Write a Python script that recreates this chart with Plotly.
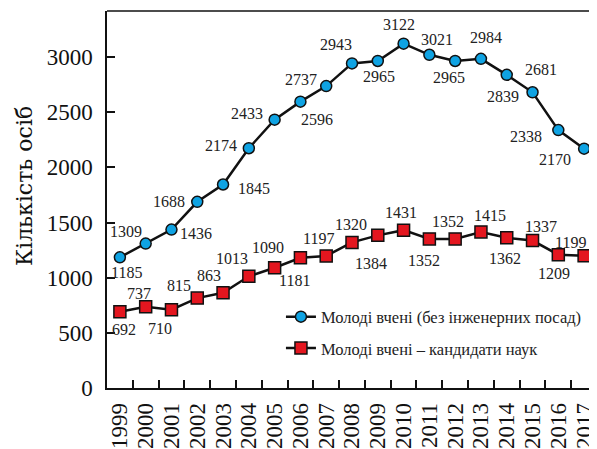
import plotly.graph_objects as go

years = [str(y) for y in range(1999, 2018)]
young_all = [1185, 1309, 1436, 1688, 1845, 2174, 2433, 2596, 2737, 2943,
             2965, 3122, 3021, 2965, 2984, 2839, 2681, 2338, 2170]
young_phd = [692, 737, 710, 815, 863, 1013, 1090, 1181, 1197, 1320,
             1384, 1431, 1352, 1352, 1415, 1362, 1337, 1209, 1199]

# label offsets in pixels from each point (dx right, dy down)
off_all = [(7, 15), (-20, -12), (25, 4), (-28, 0), (31, 4), (-28, -3), (-28, -6),
           (17, 18), (-25, -7), (-16, -19), (1, 16), (-5, -19), (8, -15), (-6, 17),
           (5, -21), (-4, 22), (8, -23), (-32, 6), (-29, 11)]
off_phd = [(4, 18), (-7, -13), (-11, 19), (-18, -13), (-14, -17), (-17, -18), (-7, -20),
           (-6, 23), (-8, -17), (-1, -18), (-7, 28), (-3, -18), (-5, 22), (-7, -17),
           (9, -16), (-2, 21), (8, -14), (-4, 19), (-14, -13)]

FONT = "Liberation Serif"
# page body has an 8px default margin: size the figure so the plot lands where the reference has it
OFF = 8

fig = go.Figure()
fig.add_trace(go.Scatter(
    x=years, y=young_all, mode="lines+markers",
    name="Молоді вчені (без інженерних посад)",
    line=dict(color="#111", width=2.5),
    marker=dict(symbol="circle", size=11, color="#0fa3e3",
                line=dict(color="#111", width=1.5)),
    legendgroup="a", cliponaxis=False))
fig.add_trace(go.Scatter(
    x=years, y=young_phd, mode="lines+markers",
    name="Молоді вчені – кандидати наук",
    line=dict(color="#111", width=2.5),
    marker=dict(symbol="square", size=12, color="#e4161f",
                line=dict(color="#111", width=1.5)),
    legendgroup="b", cliponaxis=False))

annotations = []
for series, offs in ((young_all, off_all), (young_phd, off_phd)):
    for i, (v, (dx, dy)) in enumerate(zip(series, offs)):
        annotations.append(dict(x=i, y=v, xref="x", yref="y", text=str(v),
                                showarrow=False, xshift=dx, yshift=-dy,
                                xanchor="center", yanchor="middle",
                                font=dict(family=FONT, size=16, color="#222")))
annotations.append(dict(x=0, y=0.536, xref="paper", yref="paper", text="Кількість осіб",
                        showarrow=False, textangle=-90, xshift=-82,
                        xanchor="center", yanchor="middle",
                        font=dict(family="DejaVu Serif", size=22, color="#111")))

fig.update_layout(
    width=597 - OFF, height=449 - OFF,
    margin=dict(l=107 - OFF, r=0, t=11 - OFF, b=61, autoexpand=False),
    paper_bgcolor="white", plot_bgcolor="white",
    font=dict(family=FONT, color="#111"),
    showlegend=True,
    legend=dict(x=0.355, y=0.235, xanchor="left", yanchor="top",
                font=dict(family=FONT, size=16.5, color="#222"),
                bgcolor="rgba(0,0,0,0)", tracegroupgap=7),
    xaxis=dict(type="category", range=[-0.5, 18.5], automargin=False,
               tickmode="linear", dtick=1,
               showline=True, linecolor="#111", linewidth=1.5,
               ticks="inside", tickson="boundaries", ticklen=8,
               tickcolor="#111", tickwidth=1.5,
               tickangle=-90, tickfont=dict(family=FONT, size=23, color="#111"),
               ticklabelstandoff=4,
               showgrid=False, zeroline=False),
    yaxis=dict(range=[0, 3418], tickvals=[0, 500, 1000, 1500, 2000, 2500, 3000],
               automargin=False,
               showline=True, linecolor="#111", linewidth=1.5,
               ticks="inside", ticklen=8, tickcolor="#111", tickwidth=1.5,
               tickfont=dict(family=FONT, size=23, color="#111"),
               ticklabelstandoff=8,
               showgrid=False, zeroline=False),
    shapes=[dict(type="line", xref="paper", yref="paper", x0=0, x1=1, y0=1, y1=1,
                 line=dict(color="#111", width=1.5))],
    annotations=annotations,
)

fig.write_html("out.html")
